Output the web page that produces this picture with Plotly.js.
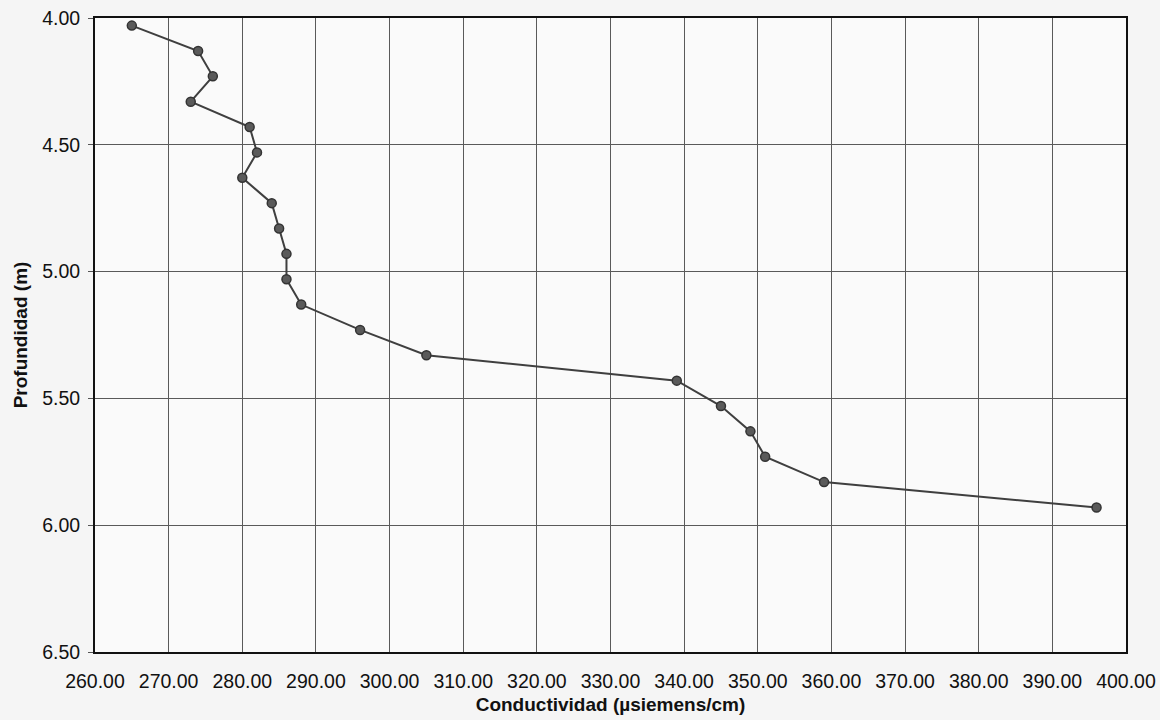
<!DOCTYPE html>
<html>
<head>
<meta charset="utf-8">
<script src="https://cdn.plot.ly/plotly-3.0.1.min.js"></script>
<style>
  html, body { margin: 0; padding: 0; background: #f5f5f5; }
  #chart { width: 1160px; height: 720px; }
</style>
</head>
<body>
<div id="chart"></div>
<script>
// Conductivity (µsiemens/cm) vs depth (m)
const conductividad = [265, 274, 276, 273, 281, 282, 280, 284, 285, 286, 286, 288, 296, 305, 339, 345, 349, 351, 359, 396];
const profundidad = [4.03, 4.13, 4.23, 4.33, 4.43, 4.53, 4.63, 4.73, 4.83, 4.93, 5.03, 5.13, 5.23, 5.33, 5.43, 5.53, 5.63, 5.73, 5.83, 5.93];

const xTitle = 'Conductividad (µsiemens/cm)';
const yTitle = 'Profundidad (m)';

const trace = {
  x: conductividad,
  y: profundidad,
  type: 'scatter',
  mode: 'lines+markers',
  line: { color: '#3f3f3f', width: 2 },
  marker: { color: '#5a5a5a', size: 9, line: { color: '#333333', width: 1.5 } },
  hoverinfo: 'x+y'
};

const fontFam = 'Liberation Sans, Arial, sans-serif';

const layout = {
  width: 1160,
  height: 720,
  margin: { l: 95, r: 34, t: 18, b: 68 },
  paper_bgcolor: '#f5f5f5',
  plot_bgcolor: '#fafafa',
  showlegend: false,
  font: { family: fontFam, color: '#111111' },
  xaxis: {
    range: [260, 400],
    dtick: 10,
    tick0: 260,
    tickformat: '.2f',
    showgrid: true,
    gridcolor: '#5a5a5a',
    gridwidth: 1,
    zeroline: false,
    showline: true,
    linecolor: '#111111',
    linewidth: 2,
    mirror: true,
    ticks: '',
    ticklen: 0,
    ticklabelstandoff: 11,
    tickfont: { size: 19.5, family: fontFam, color: '#111111' },
    title: { text: '<b>' + xTitle + '</b>', font: { size: 19, family: fontFam, color: '#111111' }, standoff: 6 },
    fixedrange: true
  },
  yaxis: {
    range: [6.5, 4.0],
    dtick: 0.5,
    tick0: 4.0,
    tickformat: '.2f',
    showgrid: true,
    gridcolor: '#5a5a5a',
    gridwidth: 1,
    zeroline: false,
    showline: true,
    linecolor: '#111111',
    linewidth: 2,
    mirror: true,
    ticks: 'outside',
    ticklen: 5,
    tickcolor: '#555555',
    ticklabelstandoff: 4,
    tickfont: { size: 19.5, family: fontFam, color: '#111111' },
    title: { text: '<b>' + yTitle + '</b>', font: { size: 19, family: fontFam, color: '#111111' }, standoff: 9 },
    fixedrange: true
  }
};

Plotly.newPlot('chart', [trace], layout, { displayModeBar: false, staticPlot: true });
</script>
</body>
</html>
